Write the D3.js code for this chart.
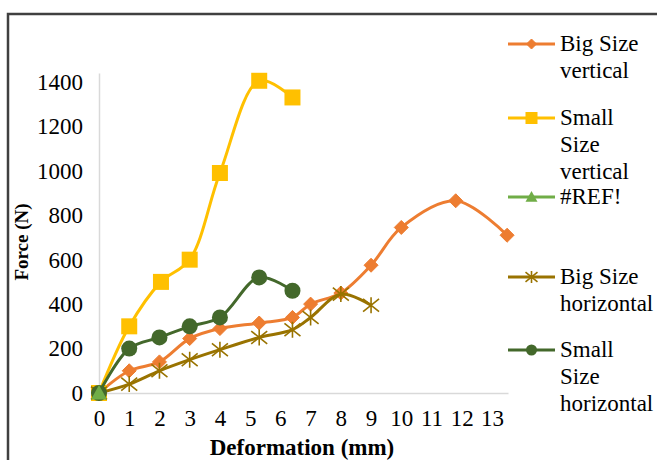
<!DOCTYPE html>
<html><head><meta charset="utf-8">
<script src="https://cdn.jsdelivr.net/npm/d3@7"></script>
<style>body{margin:0;background:#fff} svg{display:block} svg text{font-family:"Liberation Serif","Times New Roman",Tinos,serif !important;}</style>
</head><body><svg id="c" width="657" height="460"></svg>
<script>
const xTicks = [0,1,2,3,4,5,6,7,8,9,10,11,12,13];
const yTicks = [0,200,400,600,800,1000,1200,1400];
const seriesNames = ["Big Size vertical","Small Size vertical","#REF!","Big Size horizontal","Small Size horizontal"];
const bigVerticalX = [0,1,2,3,4,5.3,6.4,7,8,9,10,11.8,13.5];
const bigVerticalY = [0,100,140,245,290,315,340,400,450,575,745,865,710];
const smallVerticalX = [0,1,2.05,3,4,5.3,6.4];
const smallVerticalY = [0,300,500,600,990,1405,1330];
const refX = [0];
const refY = [0];
const bigHorizontalX = [0,1,2,3,4,5.3,6.4,7,8,9];
const bigHorizontalY = [0,40,100,150,195,250,285,340,445,395];
const smallHorizontalX = [0,1,2,3,4,5.3,6.4];
const smallHorizontalY = [0,200,250,300,340,520,460];

const svg = d3.select("#c");
svg.append("rect").attr("x",0).attr("y",0).attr("width",657).attr("height",460).attr("fill","#fff");
svg.append("rect").attr("x",8).attr("y",14).attr("width",720).attr("height",520)
  .attr("fill","#fff").attr("stroke","#404040").attr("stroke-width",2.5);

const x = d3.scaleLinear().domain([0,13.53]).range([99,508]);
const y = d3.scaleLinear().domain([0,1440]).range([393,73]);

const ya = svg.append("g").attr("transform","translate(99,0)")
  .call(d3.axisLeft(y).tickValues(yTicks).tickSize(0).tickPadding(16).tickFormat(d3.format("d")));
const xa = svg.append("g").attr("transform","translate(0,393)")
  .call(d3.axisBottom(x).tickValues(xTicks).tickSize(0).tickPadding(17).tickFormat(d3.format("d")));
[ya,xa].forEach(a=>{
  a.attr("font-family",null).attr("font-size",null);
  a.select(".domain").attr("stroke","#d9d9d9").attr("stroke-width",1.5);
  a.selectAll("text").style("font-size","23px").attr("fill","#000");
});

svg.append("text").attr("x",302).attr("y",455).attr("text-anchor","middle")
  .style("font-weight","bold").style("font-size","23px").text("Deformation (mm)");
svg.append("text").attr("transform","translate(28,242) rotate(-90)").attr("text-anchor","middle")
  .style("font-weight","bold").style("font-size","19px").text("Force (N)");

function marker(g, type, color, s){
  if(type==="diamond"){
    g.append("path").attr("d",`M0,${-s}L${s},0L0,${s}L${-s},0Z`).attr("fill",color).attr("stroke",color).attr("stroke-width",1);
  } else if(type==="square"){
    g.append("rect").attr("x",-s).attr("y",-s).attr("width",2*s).attr("height",2*s).attr("fill",color);
  } else if(type==="triangle"){
    g.append("path").attr("d",`M0,${-s}L${s},${s*0.8}L${-s},${s*0.8}Z`).attr("fill",color);
  } else if(type==="star"){
    g.append("path").attr("d",`M${-s},${-s*0.8}L${s},${s*0.8}M${-s},${s*0.8}L${s},${-s*0.8}M0,${-s}L0,${s}`)
      .attr("stroke",color).attr("stroke-width",1.6).attr("fill","none");
  } else if(type==="circle"){
    g.append("circle").attr("r",s).attr("fill",color);
  }
}

const series = [
  {name:seriesNames[0], xs:bigVerticalX, ys:bigVerticalY, color:"#ED7D31", type:"diamond", s:7, ls:5},
  {name:seriesNames[1], xs:smallVerticalX, ys:smallVerticalY, color:"#FFC000", type:"square", s:8, ls:6},
  {name:seriesNames[3], xs:bigHorizontalX, ys:bigHorizontalY, color:"#997300", type:"star", s:8, ls:6},
  {name:seriesNames[4], xs:smallHorizontalX, ys:smallHorizontalY, color:"#43682B", type:"circle", s:8, ls:5.5},
  {name:seriesNames[2], xs:refX, ys:refY, color:"#70AD47", type:"triangle", s:8, ls:6}
];
const line = d3.line().x(d=>x(d[0])).y(d=>y(d[1])).curve(d3.curveCatmullRom.alpha(0.5));
series.forEach(sr=>{
  const pts = sr.xs.map((v,i)=>[v, sr.ys[i]]);
  const g = svg.append("g");
  if(pts.length>1) g.append("path").attr("d",line(pts)).attr("fill","none").attr("stroke",sr.color).attr("stroke-width",3).attr("stroke-linejoin","round");
  pts.forEach(p=>{
    const m = g.append("g").attr("transform",`translate(${x(p[0])},${y(p[1])})`);
    marker(m, sr.type, sr.color, sr.s);
  });
});

// legend
const legendEntries = [
  {idx:0, lines:["Big Size","vertical"], my:44},
  {idx:1, lines:["Small","Size","vertical"], my:118},
  {idx:4, lines:["#REF!"], my:197},
  {idx:2, lines:["Big Size","horizontal"], my:277},
  {idx:3, lines:["Small","Size","horizontal"], my:350}
];
legendEntries.forEach(e=>{
  const sr = series[e.idx];
  const g = svg.append("g");
  g.append("line").attr("x1",508).attr("x2",555).attr("y1",e.my).attr("y2",e.my).attr("stroke",sr.color).attr("stroke-width",3);
  const m = g.append("g").attr("transform",`translate(531.5,${e.my})`);
  marker(m, sr.type, sr.color, sr.ls);
  const t = g.append("text").style("font-size","23px").attr("fill","#000");
  e.lines.forEach((l,i)=>{
    t.append("tspan").attr("x",560).attr("y",e.my+7+i*27).text(l);
  });
});
</script></body></html>
